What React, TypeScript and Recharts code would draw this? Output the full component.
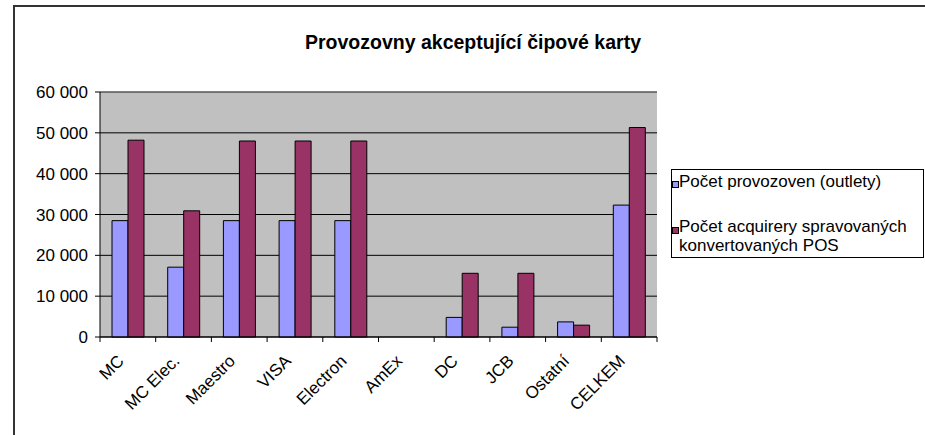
import { BarChart, Bar, XAxis, YAxis, CartesianGrid, ReferenceLine } from "recharts";

const categories = [
  "MC",
  "MC Elec.",
  "Maestro",
  "VISA",
  "Electron",
  "AmEx",
  "DC",
  "JCB",
  "Ostatní",
  "CELKEM",
];
const outlets = [28500, 17100, 28500, 28500, 28500, 0, 4800, 2400, 3700, 32300];
const convertedPos = [48200, 30900, 48000, 48000, 48000, 0, 15600, 15600, 2900, 51300];
const yTicks = [0, 10000, 20000, 30000, 40000, 50000, 60000];
const seriesNames = [
  "Počet provozoven (outlety)",
  "Počet acquirery spravovaných konvertovaných POS",
];
const seriesColors = ["#9999ff", "#993366"];

const data = categories.map((name, i) => ({
  name,
  outlets: outlets[i],
  pos: convertedPos[i],
}));

const FONT = '"Liberation Sans", Arial, sans-serif';
const CHART_W = 925;
const CHART_H = 435;
const MARGIN = { top: 92, right: 268, left: 0, bottom: 0 };
const Y_AXIS_W = 100;
const PLOT_W = CHART_W - MARGIN.left - MARGIN.right - Y_AXIS_W;
const BAND = PLOT_W / categories.length;

const fmt = (v: number) =>
  v === 0 ? "0" : `${Math.floor(v / 1000)} ${String(v % 1000).padStart(3, "0")}`;

function CategoryTick(props: any) {
  const { x, y, payload, index } = props;
  const left = x - BAND / 2;
  const last = index === categories.length - 1;
  const tx = x - 3;
  const ty = y + 25;
  return (
    <g>
      <line x1={left} y1={y} x2={left} y2={y + 5} stroke="#000" />
      {last && <line x1={x + BAND / 2} y1={y} x2={x + BAND / 2} y2={y + 5} stroke="#000" />}
      <text
        x={tx}
        y={ty}
        transform={`rotate(-45, ${tx}, ${ty})`}
        textAnchor="end"
        fontSize={17}
        fontFamily={FONT}
        fill="#000"
      >
        {payload.value}
      </text>
    </g>
  );
}

export default function App() {
  return (
    <div
      style={{
        position: "absolute",
        left: 0,
        top: 0,
        width: CHART_W,
        height: CHART_H,
        overflow: "hidden",
        background: "#fff",
        fontFamily: FONT,
      }}
    >
      <div
        style={{
          position: "absolute",
          left: 13,
          top: 5,
          width: 1000,
          height: 1000,
          border: "2px solid #333",
        }}
      />
      <div
        style={{
          position: "absolute",
          left: 0,
          width: 946,
          top: 31.5,
          textAlign: "center",
          fontSize: 19.5,
          lineHeight: "20px",
          fontWeight: "bold",
          color: "#000",
        }}
      >
        Provozovny akceptující čipové karty
      </div>
      <div style={{ position: "absolute", left: 0, top: 0 }}>
        <BarChart
          width={CHART_W}
          height={CHART_H}
          data={data}
          margin={MARGIN}
          barSize={16}
          barGap={0}
        >
          <CartesianGrid
            vertical={false}
            stroke="#000"
            fill="#c0c0c0"
            fillOpacity={1}
          />
          <XAxis
            dataKey="name"
            height={98}
            interval={0}
            tickSize={0}
            tickMargin={0}
            tickLine={false}
            axisLine={{ stroke: "#000" }}
            tick={<CategoryTick />}
          />
          <YAxis
            width={Y_AXIS_W}
            domain={[0, 60000]}
            ticks={yTicks}
            tickFormatter={fmt}
            tickSize={5}
            tickMargin={7}
            tickLine={{ stroke: "#000" }}
            axisLine={{ stroke: "#000" }}
            tick={{ fill: "#000", fontSize: 17, fontFamily: FONT }}
          />
          <YAxis
            yAxisId="r"
            orientation="right"
            width={0}
            domain={[0, 60000]}
            tick={false}
            tickLine={false}
            axisLine={{ stroke: "#808080" }}
          />
          <ReferenceLine y={60000} stroke="#808080" />
          <Bar
            dataKey="outlets"
            name={seriesNames[0]}
            fill={seriesColors[0]}
            stroke="#000"
            strokeWidth={1}
            isAnimationActive={false}
          />
          <Bar
            dataKey="pos"
            name={seriesNames[1]}
            fill={seriesColors[1]}
            stroke="#000"
            strokeWidth={1}
            isAnimationActive={false}
          />
        </BarChart>
      </div>
      <div
        style={{
          position: "absolute",
          left: 671,
          top: 169,
          width: 253,
          height: 89,
          border: "1px solid #000",
          boxSizing: "border-box",
          background: "#fff",
        }}
      />
      {seriesNames.map((name, i) => (
        <div key={name}>
          <div
            style={{
              position: "absolute",
              left: 672,
              top: i === 0 ? 181 : 227,
              width: 7,
              height: 7,
              boxSizing: "border-box",
              border: "1px solid #000",
              background: seriesColors[i],
            }}
          />
          <div
            style={{
              position: "absolute",
              left: 679,
              top: i === 0 ? 172.6 : 218,
              width: 245,
              fontSize: 17,
              lineHeight: "18.7px",
              color: "#000",
            }}
          >
            {name}
          </div>
        </div>
      ))}
    </div>
  );
}
